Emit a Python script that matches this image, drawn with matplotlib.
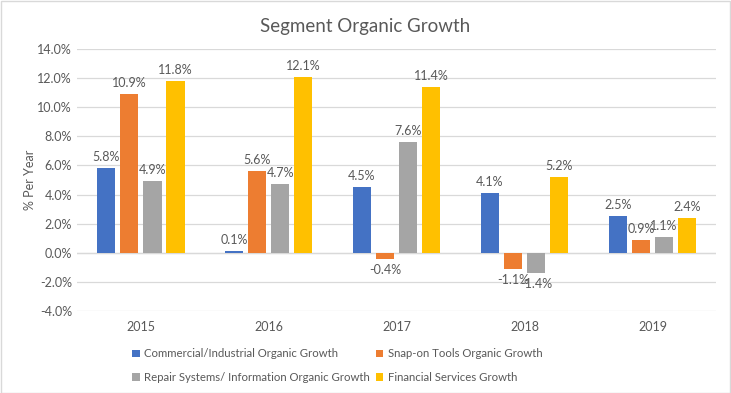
import matplotlib.pyplot as plt
import numpy as np
from matplotlib.patches import Rectangle

plt.rcParams['font.family'] = ['Lato', 'DejaVu Sans']

years = ["2015", "2016", "2017", "2018", "2019"]
series_names = [
    "Commercial/Industrial Organic Growth",
    "Snap-on Tools Organic Growth",
    "Repair Systems/ Information Organic Growth",
    "Financial Services Growth",
]
commercial = [5.8, 0.1, 4.5, 4.1, 2.5]
snap_on = [10.9, 5.6, -0.4, -1.1, 0.9]
repair = [4.9, 4.7, 7.6, -1.4, 1.1]
financial = [11.8, 12.1, 11.4, 5.2, 2.4]
colors = ["#4472C4", "#ED7D31", "#A5A5A5", "#FFC000"]

txt = "#595959"

fig = plt.figure(figsize=(7.31, 3.93), dpi=100)
ax = fig.add_axes([0.105, 0.209, 0.875, 0.666])

x = np.arange(len(years))
width = 0.145
step = 0.18
bars = []
for i, (vals, c, name) in enumerate(zip([commercial, snap_on, repair, financial], colors, series_names)):
    pos = x + (i - 1.5) * step
    bars.append(ax.bar(pos, vals, width, color=c, label=name, zorder=3))
    for px, v in zip(pos, vals):
        if v >= 0:
            ax.text(px, v + 0.35, f"{v:.1f}%", ha="center", va="bottom", fontsize=9, color=txt)
        else:
            ax.text(px, v - 0.35, f"{v:.1f}%", ha="center", va="top", fontsize=9, color=txt)

ax.set_xlim(-0.5, len(years) - 0.5)
ax.set_ylim(-4, 14)
ax.set_yticks(np.arange(-4, 14.1, 2))
ax.set_yticklabels([f"{t:.1f}%" for t in np.arange(-4, 14.1, 2)])
ax.set_xticks(x)
ax.set_xticklabels(years)
ax.tick_params(axis="both", length=0, labelsize=9, colors=txt)
ax.tick_params(axis="x", pad=7)
ax.grid(axis="y", color="#D9D9D9", linewidth=0.9, zorder=0)
ax.axhline(0, color="#D9D9D9", linewidth=0.9, zorder=1)
for s in ax.spines.values():
    s.set_visible(False)
ax.set_ylabel("% Per Year", fontsize=9, color=txt)
ax.yaxis.set_label_coords(-0.064, 0.5)

fig.suptitle("Segment Organic Growth", y=0.955, fontsize=13.5, color=txt)

# legend fills row by row like the original
order = [0, 2, 1, 3]
fig.legend([bars[i] for i in order], [series_names[i] for i in order],
           loc="upper left", bbox_to_anchor=(0.175, 0.125), ncol=2, frameon=False,
           fontsize=8.2, labelcolor=txt, handlelength=0.65, handleheight=0.65,
           handletextpad=0.4, columnspacing=0.5, labelspacing=1.1, borderaxespad=0)

fig.patches.append(Rectangle((0.001, 0.001), 0.997, 0.997, transform=fig.transFigure,
                             fill=False, edgecolor="#D9D9D9", linewidth=1))

fig.savefig("out.png", dpi=100)
